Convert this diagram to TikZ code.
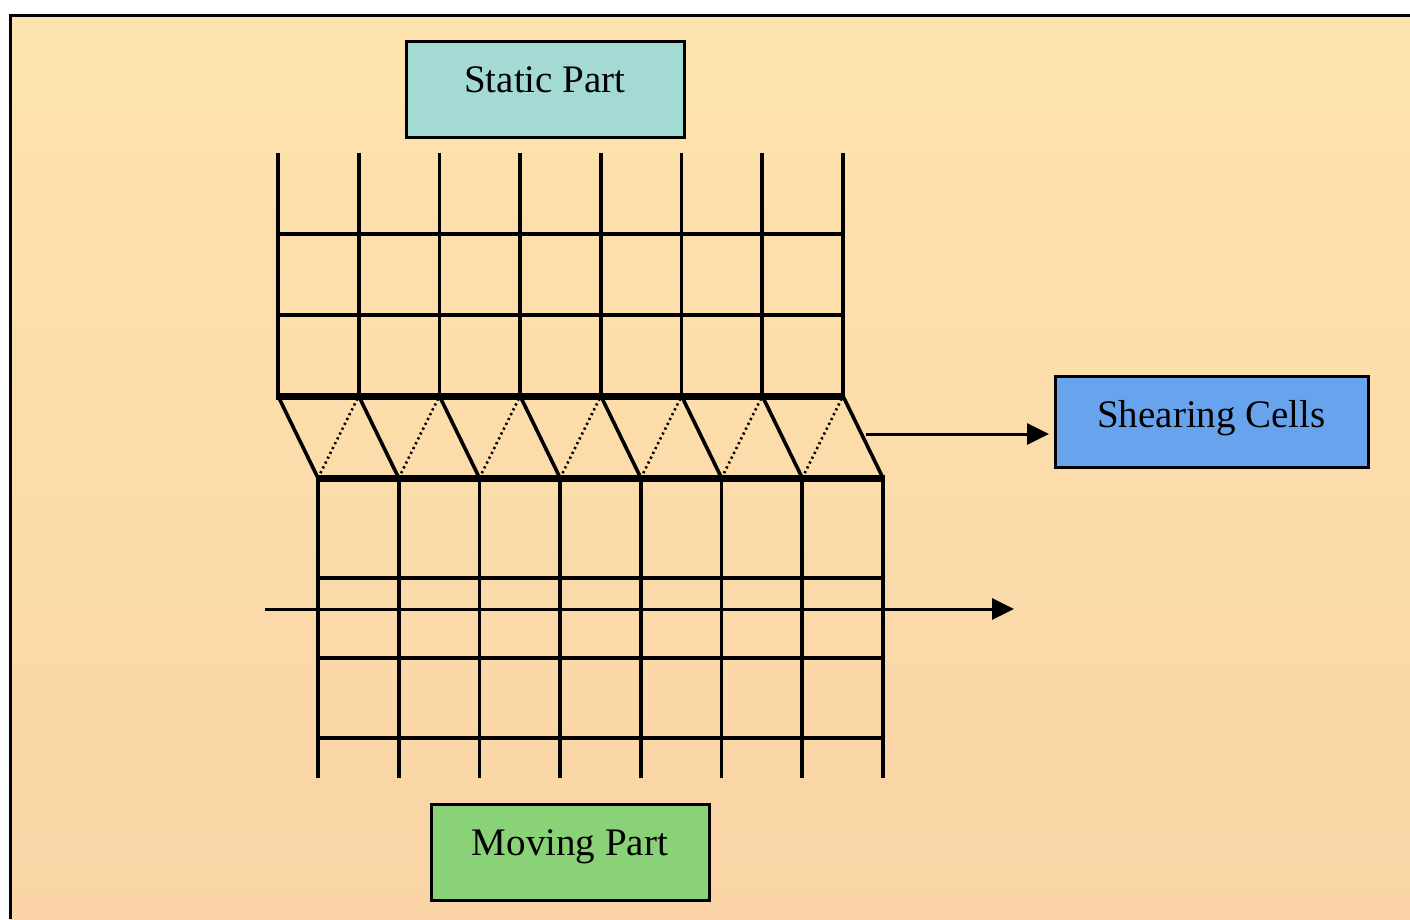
\documentclass[tikz,border=0pt]{standalone}
\usepackage{fontspec}
\setmainfont{Liberation Serif}
\usetikzlibrary{arrows.meta}
\definecolor{paperA}{RGB}{253,228,174}
\definecolor{paperB}{RGB}{250,212,166}
\definecolor{staticfill}{RGB}{163,218,212}
\definecolor{shearfill}{RGB}{104,164,238}
\definecolor{movefill}{RGB}{138,210,120}
\tikzset{
  labelbox/.style={draw=black, line width=3pt, minimum width=278pt, minimum height=96pt,
    inner sep=0pt, text height=26pt, text depth=20pt, font=\fontsize{39}{44}\selectfont},
  gridline/.style={line width=3.6pt},
  slipline/.style={line width=7pt},
  shearline/.style={line width=3.6pt},
  shearhint/.style={line width=2.6pt, dash pattern=on 2.2pt off 3.2pt},
  flowarrow/.style={line width=3pt, -{Triangle[length=22pt,width=21pt]}}
}
\begin{document}
\begin{tikzpicture}[x=1pt,y=-1pt]
\useasboundingbox (0,0) rectangle (1410,919);
% page background and frame
\fill[white] (0,0) rectangle (1410,919);
\shade[top color=paperA, bottom color=paperB] (10,15) rectangle (1410,919);
\draw[line width=3pt] (10,919) -- (10,15) -- (1410,15);

% static mesh (upper block)
\foreach \i in {0,...,7} {
  \draw[gridline] ({278+80.714*\i},153) -- ({278+80.714*\i},396);
}
\foreach \yy in {234,315} {
  \draw[gridline] (278,\yy) -- (843,\yy);
}
% moving mesh (lower block)
\foreach \i in {0,...,7} {
  \draw[gridline] ({318+80.714*\i},478) -- ({318+80.714*\i},778);
}
\foreach \yy in {578,658,738} {
  \draw[gridline] (318,\yy) -- (883,\yy);
}
% sheared cell layer between the two blocks
\foreach \i in {0,...,7} {
  \draw[shearline] ({278+80.714*\i},396) -- ({318+80.714*\i},478);
}
\foreach \i in {0,...,6} {
  \draw[shearhint] ({318+80.714*\i},478) -- ({358.714+80.714*\i},396);
}
\draw[slipline] (276,396) -- (845,396);
\draw[slipline] (316,478) -- (885,478);

% labels
\node[labelbox, fill=staticfill] (static) at (545,89) {Static Part};
\node[labelbox, fill=shearfill, minimum width=313pt, minimum height=91pt,
      text depth=14pt] (shear) at (1211.5,421.5) {Shearing Cells};
\node[labelbox, fill=movefill] (moving) at (570,852.5) {Moving Part};

% arrows
\coordinate (shearsrc) at (866,434);
\coordinate (shearend) at (1049,434);
\draw[flowarrow] (shearsrc) -- (shearend);
\coordinate (flowsrc) at (265,609);
\coordinate (flowend) at (1014,609);
\draw[flowarrow] (flowsrc) -- (flowend);
\end{tikzpicture}
\end{document}
